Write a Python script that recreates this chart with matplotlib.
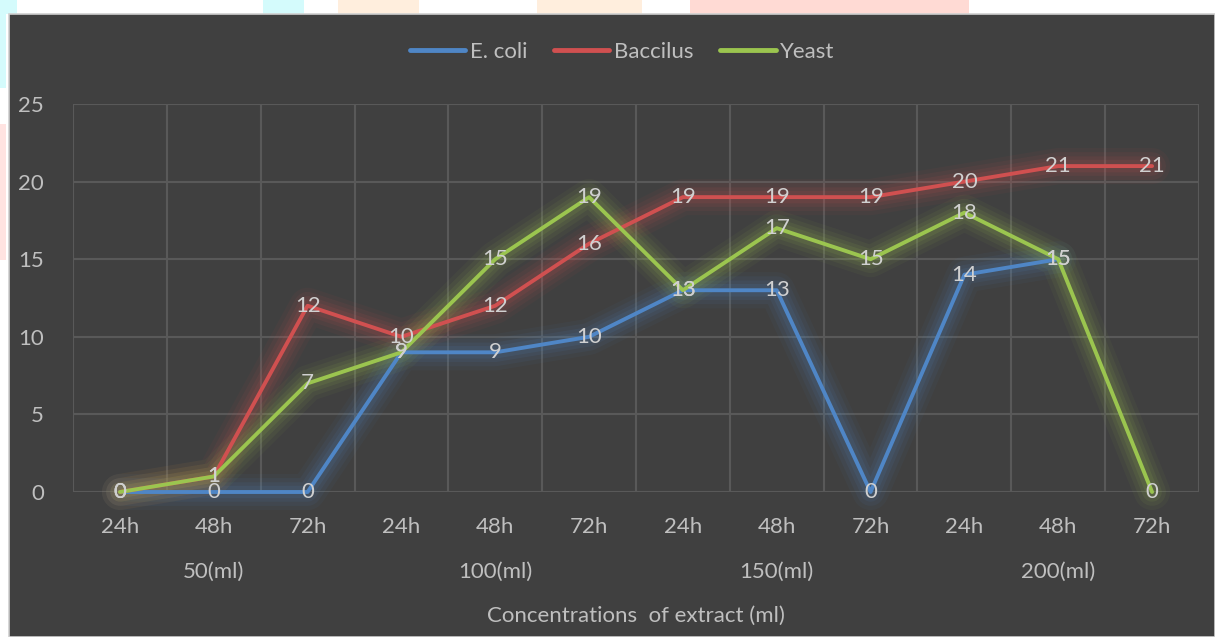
import numpy as np
import matplotlib
matplotlib.use("Agg")
import matplotlib.pyplot as plt
from matplotlib.patches import Rectangle
from matplotlib.lines import Line2D
import matplotlib.transforms as mtransforms

# Categories: incubation time within each extract concentration
times = ["24h", "48h", "72h"] * 4
groups = ["50(ml)", "100(ml)", "150(ml)", "200(ml)"]

ecoli = [0, 0, 0, 9, 9, 10, 13, 13, 0, 14, 15, np.nan]
bacillus = [0, 1, 12, 10, 12, 16, 19, 19, 19, 20, 21, 21]
yeast = [0, 1, 7, 9, 15, 19, 13, 17, 15, 18, 15, 0]

series = [
    ("E. coli", ecoli, "#4F86C6"),
    ("Baccilus", bacillus, "#D05050"),
    ("Yeast", yeast, "#9BC54F"),
]

y_ticks = [0, 5, 10, 15, 20, 25]

FONT = "Lato"
FS = 16
TXT = "#BFBFBF"
BG = "#404040"
GRID = "#595959"

W, H = 1215, 637
fig = plt.figure(figsize=(W / 100, H / 100), dpi=100, facecolor="white")

# pastel patches in the white margin
for x0, y0, w, h, c in [
    (0, H - 14, 17, 14, "#D4FBFC"), (263, H - 14, 41, 14, "#D4FBFC"),
    (338, H - 14, 81, 14, "#FFEEDD"), (537, H - 14, 105, 14, "#FFEEDD"),
    (690, H - 14, 279, 14, "#FFDAD4"),
    (0, H - 88, 6, 88, "#D4FBFC"), (0, H - 260, 6, 136, "#FFE3E1"),
]:
    fig.patches.append(Rectangle((x0 / W, y0 / H), w / W, h / H,
                                 transform=fig.transFigure, facecolor=c,
                                 edgecolor="none", zorder=0))

# dark chart panel
fig.patches.append(Rectangle((9 / W, 0), 1 - 9 / W, 1 - 14 / H,
                             transform=fig.transFigure, facecolor=BG,
                             edgecolor="#D0D0D0", linewidth=1.2, zorder=1))

left, right, top, bottom = 73, 1199, 104, 492
ax = fig.add_axes([left / W, 1 - bottom / H, (right - left) / W, (bottom - top) / H])
ax.set_facecolor("none")
ax.set_zorder(2)

x = np.arange(len(times))
ax.set_xlim(-0.5, len(times) - 0.5)
ax.set_ylim(0, 25)

for s in ax.spines.values():
    s.set_visible(False)

# gridlines
for yv in y_ticks:
    ax.axhline(yv, color=GRID, lw=1.5, zorder=1)
for xv in np.arange(-0.5, len(times), 1.0):
    ax.axvline(xv, color=GRID, lw=1.5, zorder=1)

# lines with soft glow
for name, vals, col in series:
    v = np.array(vals, dtype=float)
    for lw, a in [(26, 0.05), (20, 0.07), (14, 0.09), (9, 0.11)]:
        ax.plot(x, v, color=col, lw=lw, alpha=a, solid_capstyle="round",
                solid_joinstyle="round", clip_on=False, zorder=2)
    ax.plot(x, v, color=col, lw=2.8, solid_capstyle="round",
            solid_joinstyle="round", clip_on=False, zorder=4)

# data labels centred on points
for name, vals, col in series:
    for xi, val in zip(x, vals):
        if np.isnan(val):
            continue
        ax.text(xi, val, f"{int(val)}", ha="center", va="center",
                fontsize=FS, color="#D0D0D0", family=FONT, zorder=6)

ax.set_yticks(y_ticks)
ax.set_yticklabels([str(t) for t in y_ticks], fontsize=FS, color=TXT, family=FONT)
ax.set_xticks(x)
ax.set_xticklabels(times, fontsize=FS, color=TXT, family=FONT)
ax.tick_params(axis="both", length=0)
ax.tick_params(axis="y", pad=21)
ax.tick_params(axis="x", pad=18)

trans = mtransforms.blended_transform_factory(ax.transData, ax.transAxes)
for gi, g in enumerate(groups):
    ax.text(gi * 3 + 1, -(572 - bottom) / (bottom - top), g, transform=trans,
            ha="center", va="center", fontsize=FS, color=TXT, family=FONT)

ax.text(0.5, -(616 - bottom) / (bottom - top), "Concentrations  of extract (ml)",
        transform=ax.transAxes, ha="center", va="center", fontsize=FS,
        color=TXT, family=FONT)

handles = [Line2D([], [], color=c, lw=3.5, solid_capstyle="round") for _, _, c in series]
leg = fig.legend(handles, [n for n, _, _ in series], loc="center",
                 bbox_to_anchor=(622 / W, 1 - 52 / H), ncol=3, frameon=False,
                 prop={"family": FONT, "size": FS}, handlelength=2.5,
                 handletextpad=0.2, columnspacing=1.2)
for t in leg.get_texts():
    t.set_color(TXT)

fig.savefig("out.png", dpi=100, facecolor="white")
